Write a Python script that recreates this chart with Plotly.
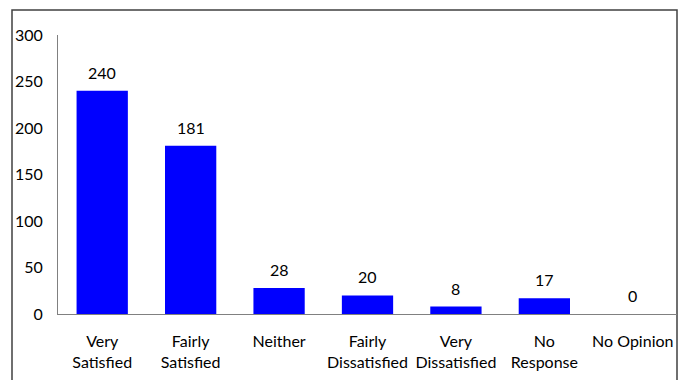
import plotly.graph_objects as go

categories = ["Very<br>Satisfied", "Fairly<br>Satisfied", "Neither", "Fairly<br>Dissatisfied",
              "Very<br>Dissatisfied", "No<br>Response", "No Opinion"]
values = [240, 181, 28, 20, 8, 17, 0]
y_ticks = [0, 50, 100, 150, 200, 250, 300]

W, H = 685, 380
ml, mr, mt, mb = 58, 8, 35, 66
pw, ph = W - ml - mr, H - mt - mb

fig = go.Figure(go.Bar(
    x=categories, y=values,
    marker=dict(color="#0000FF", line=dict(width=0)),
    cliponaxis=False,
))

for c, v in zip(categories, values):
    fig.add_annotation(x=c, y=v, text=str(v), showarrow=False,
                       xanchor="center", yanchor="bottom", yshift=7,
                       font=dict(size=16, color="#000000"))

def px_x(p):
    return (p - ml) / pw

def px_y(p):
    return (H - mb - p) / ph

fig.add_shape(type="rect", xref="paper", yref="paper",
              x0=px_x(12), x1=px_x(677), y0=px_y(400), y1=px_y(10),
              line=dict(color="#404040", width=1.5), fillcolor="rgba(0,0,0,0)", layer="below")

fig.update_layout(
    width=W, height=H,
    margin=dict(l=ml, r=mr, t=mt, b=mb),
    paper_bgcolor="white", plot_bgcolor="white",
    font=dict(family="Lato, Open Sans, sans-serif", size=16, color="#000000"),
    bargap=0.42,
    showlegend=False,
    xaxis=dict(showline=True, linecolor="#808080", linewidth=1, showgrid=False,
               ticks="", ticklabelstandoff=13, tickfont=dict(size=16)),
    yaxis=dict(range=[0, 300], tickvals=y_ticks, showline=True, linecolor="#808080",
               linewidth=1, showgrid=False, zeroline=False, ticks="",
               ticklabelstandoff=11, tickfont=dict(size=16)),
)

fig.write_html("out.html")
